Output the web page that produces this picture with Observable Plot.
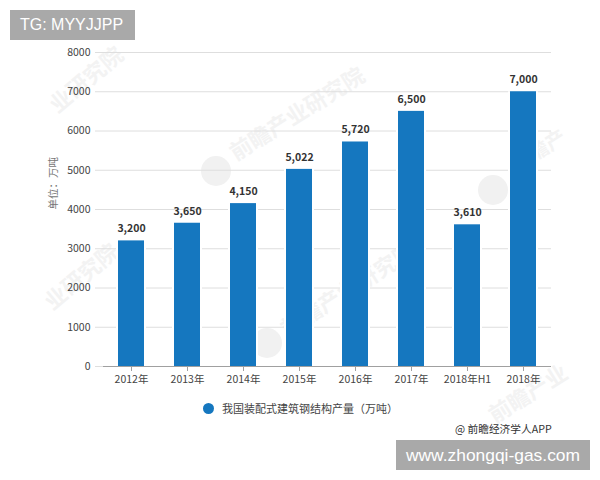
<!DOCTYPE html>
<html><head><meta charset="utf-8">
<script src="https://cdn.jsdelivr.net/npm/d3@7"></script>
<script src="https://cdn.jsdelivr.net/npm/@observablehq/plot@0.6"></script>
<style>
html,body{margin:0;padding:0;background:#fff;width:600px;height:480px;overflow:hidden;position:relative;font-family:"Noto Sans CJK SC","Noto Sans",sans-serif}
.abs{position:absolute;white-space:nowrap}
.wm{position:absolute;white-space:nowrap;color:#f3f3f3;font-weight:700;font-size:22px;line-height:24px;transform:translate(-50%,-50%) rotate(-32deg)}
.logo{position:absolute;width:30px;height:30px;border-radius:50%;background:#f1f1f1;transform:translate(-50%,-50%)}
</style></head><body>
<div class="wm" style="left:85px;top:78px;transform:translate(-50%,-50%) rotate(-40deg)">业研究院</div>
<div class="logo" style="left:216px;top:171px"></div>
<div class="wm" style="left:296px;top:112px">前瞻产业研究院</div>
<div class="logo" style="left:493px;top:190px"></div>
<div class="wm" style="left:538px;top:150px;font-size:20px">前瞻产</div>
<div class="wm" style="left:80px;top:275px;transform:translate(-50%,-50%) rotate(-40deg)">业研究院</div>
<div class="logo" style="left:267px;top:343px"></div>
<div class="wm" style="left:347px;top:288px">前瞻产业研究院</div>
<div class="wm" style="left:527px;top:392px">前瞻产业</div>
<div id="chart" style="position:absolute;left:0;top:0"></div>
<div class="abs" style="left:10px;top:10px;width:125px;height:30px;background:#a9a9a9;color:#fff;font:16px/30px 'Liberation Sans',sans-serif;text-indent:10px">TG: MYYJJPP</div>
<div class="abs" style="left:203px;top:400px;display:flex;align-items:center;font-size:11px;line-height:16px;color:#444"><span style="display:inline-block;width:11px;height:11px;border-radius:50%;background:#1577bf;margin-right:8px"></span>我国装配式建筑钢结构产量（万吨）</div>
<div class="abs" style="left:455px;top:421px;font-size:10.7px;line-height:16px;color:#333">@ 前瞻经济学人APP</div>
<div class="abs" style="left:396px;top:440px;width:194px;height:30px;background:#a9a9a9;color:#fff;font:17.4px/30px 'Liberation Sans',sans-serif;text-align:center">www.zhongqi-gas.com</div>
<script>
const categories = ["2012年","2013年","2014年","2015年","2016年","2017年","2018年H1","2018年"];
const values = [3200,3650,4150,5022,5720,6500,3610,7000];
const yTicks = [0,1000,2000,3000,4000,5000,6000,7000,8000];
const yTitle = "单位：万吨";
const rows = categories.map((c,i)=>({c,v:values[i]}));
const font = "'Noto Sans CJK SC','Noto Sans',sans-serif";
const plot = Plot.plot({
  width:600,height:480,marginLeft:103,marginRight:49,marginTop:52,marginBottom:114,
  style:{fontFamily:font,background:"transparent",overflow:"visible"},
  x:{domain:categories,paddingInner:0.527,paddingOuter:0.2635,align:0.5,label:null},
  y:{domain:[0,8000],label:null},
  marks:[
    Plot.ruleY(yTicks,{insetLeft:-8,stroke:"#dedede",strokeWidth:1}),
    Plot.barY(rows,{x:"c",y:"v",fill:"#fff",insetLeft:-2,insetRight:-2}),
    Plot.barY(rows,{x:"c",y:"v",fill:"#1577bf"}),
    Plot.ruleY([0],{stroke:"#a0a0a0",strokeWidth:1}),
    Plot.axisY({ticks:yTicks,tickFormat:d=>String(d),tickSize:0,tickPadding:13,fontSize:10.5,fill:"#444",label:null}),
    Plot.axisX({tickSize:5,tickPadding:4,fontSize:10.5,fill:"#444",stroke:"#a0a0a0",label:null}),
    Plot.text(rows,{x:"c",y:"v",text:d=>d3.format(",")(d.v),dy:-12,fontSize:10.5,fontWeight:700,fill:"#333"}),
    Plot.text([yTitle],{frameAnchor:"left",rotate:-90,dx:-50,fontSize:10.5,fill:"#777"})
  ]
});
document.getElementById("chart").appendChild(plot);
</script>
</body></html>
